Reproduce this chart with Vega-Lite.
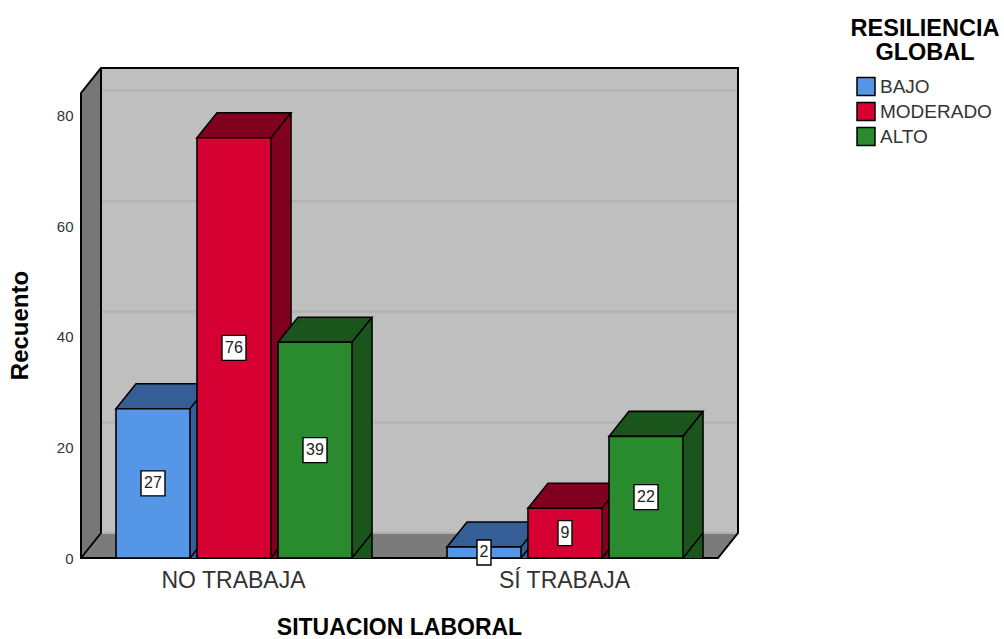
{
"$schema":"https://vega.github.io/schema/vega-lite/v6.json",
"width":657,"height":490,"autosize":"none",
"padding":{"left":81,"top":68,"right":266,"bottom":81},
"background":"white",
"view":{"stroke":null},
"datasets":{
"barras":[
{"situacion":"NO TRABAJA","nivel":"BAJO","recuento":27},
{"situacion":"NO TRABAJA","nivel":"MODERADO","recuento":76},
{"situacion":"NO TRABAJA","nivel":"ALTO","recuento":39},
{"situacion":"SÍ TRABAJA","nivel":"BAJO","recuento":2},
{"situacion":"SÍ TRABAJA","nivel":"MODERADO","recuento":9},
{"situacion":"SÍ TRABAJA","nivel":"ALTO","recuento":22}],
"marcas":[{"recuento":0},{"recuento":20},{"recuento":40},{"recuento":60},{"recuento":80}],
"pared":[{"pared":"marco"}]
},
"resolve":{"scale":{"fill":"independent"}},
"layer":[
{"data":{"name":"pared"},
 "mark":{"type":"point","shape":"M-132.5,-490L504.5,-490L504.5,-25L-132.5,-25Z","size":4,"filled":true,"fill":"#bfbfbf","strokeWidth":0,"opacity":1},
 "encoding":{"x":{"datum":"NO TRABAJA","type":"nominal","title":"SITUACION LABORAL","scale":{"domain":["NO TRABAJA","SÍ TRABAJA"],"range":[-13,649],"paddingInner":0,"paddingOuter":0},
   "axis":{"title":"SITUACION LABORAL","domain":false,"ticks":false,"labelAngle":0,"labelFont":"Liberation Sans","labelFontSize":23,"labelColor":"#333333","labelPadding":11,"titleFont":"Liberation Sans","titleFontSize":23,"titleFontWeight":"bold","titleColor":"#000000","titlePadding":24}},
  "y":{"datum":0,"type":"quantitative","title":"Recuento","scale":{"domain":[0,88.6],"nice":false,"range":[490,0]},
   "axis":{"title":"Recuento","titleY":257,"domain":false,"ticks":false,"grid":false,"values":[0,20,40,60,80],"labelFont":"Liberation Sans","labelFontSize":15,"labelColor":"#333333","labelPadding":8,"titleFont":"Liberation Sans","titleFontSize":24,"titleFontWeight":"bold","titleColor":"#000000","titlePadding":24}}}},
{"data":{"name":"pared"},
 "mark":{"type":"point","shape":"M-152.5,0L-132.5,-25L-132.5,-490L-152.5,-465Z","size":4,"filled":true,"fill":"#767676","strokeWidth":0,"opacity":1},
 "encoding":{"x":{"datum":"NO TRABAJA","type":"nominal"},"y":{"datum":0,"type":"quantitative"}}},
{"data":{"name":"pared"},
 "mark":{"type":"point","shape":"M-152.5,0L-132.5,-25L504.5,-25L484.5,0Z","size":4,"filled":true,"fill":"#7b7b7b","strokeWidth":0,"opacity":1},
 "encoding":{"x":{"datum":"NO TRABAJA","type":"nominal"},"y":{"datum":0,"type":"quantitative"}}},
{"data":{"name":"marcas"},
 "mark":{"type":"point","shape":"M-132.5,-25L504.5,-25","size":4,"filled":false,"stroke":"#b0b0b0","strokeWidth":2,"opacity":1},
 "encoding":{"x":{"datum":"NO TRABAJA","type":"nominal"},"y":{"field":"recuento","type":"quantitative","title":"Recuento"}}},
{"data":{"name":"pared"},
 "mark":{"type":"point","shape":"M-152.5,0L-152.5,-465L-132.5,-490L504.5,-490L504.5,-25L484.5,0ZM-152.5,0L-132.5,-25L-132.5,-490","size":4,"filled":false,"stroke":"#000000","strokeWidth":2,"opacity":1},
 "encoding":{"x":{"datum":"NO TRABAJA","type":"nominal"},"y":{"datum":0,"type":"quantitative"}}},
{"data":{"name":"barras"},
 "transform":[{"calculate":"datum.recuento / 2","as":"mitad"}],
 "encoding":{
  "x":{"field":"situacion","type":"nominal","title":"SITUACION LABORAL"},
  "y":{"field":"recuento","type":"quantitative","stack":null,"title":"Recuento"}
 },
 "resolve":{"scale":{"fill":"independent","xOffset":"independent"}},
 "layer":[
  {"mark":{"type":"bar","yOffset":-25,"strokeWidth":0},
   "encoding":{"xOffset":{"field":"nivel","type":"nominal","scale":{"type":"band","domain":["BAJO","MODERADO","ALTO"],"range":[68,304],"paddingInner":0.0864,"paddingOuter":0}},
    "fill":{"field":"nivel","type":"nominal","legend":null,"scale":{"domain":["BAJO","MODERADO","ALTO"],"range":["#365e96","#82001f","#1a561c"]}}}},
  {"mark":{"type":"point","shape":"M37,0L57,-25L37,-25Z","size":4,"filled":true,"strokeWidth":0,"opacity":1},
   "encoding":{"xOffset":{"field":"nivel","type":"nominal","scale":{"type":"band","domain":["BAJO","MODERADO","ALTO"],"range":[48,284],"paddingInner":0.0864,"paddingOuter":0}},"y":{"datum":0,"type":"quantitative","title":"Recuento"},"fill":{"field":"nivel","type":"nominal","legend":null,"scale":{"domain":["BAJO","MODERADO","ALTO"],"range":["#365e96","#82001f","#1a561c"]}}}},
  {"mark":{"type":"point","shape":"M37,0L57,-25","size":4,"filled":false,"stroke":"#000000","strokeWidth":1.6,"opacity":1},
   "encoding":{"xOffset":{"field":"nivel","type":"nominal","scale":{"type":"band","domain":["BAJO","MODERADO","ALTO"],"range":[48,284],"paddingInner":0.0864,"paddingOuter":0}},"y":{"datum":0,"type":"quantitative","title":"Recuento"}}},
  {"mark":{"type":"rule","yOffset":-25,"stroke":"#000000","strokeWidth":1.6},
   "encoding":{"xOffset":{"field":"nivel","type":"nominal","scale":{"type":"band","domain":["BAJO","MODERADO","ALTO"],"range":[105,341],"paddingInner":0.0864,"paddingOuter":0}},"y2":{"datum":0}}},
  {"mark":{"type":"point","shape":"M-37,0L37,0L57,-25L-17,-25Z","size":4,"filled":true,"stroke":"#000000","strokeWidth":1.6,"opacity":1},
   "encoding":{"xOffset":{"field":"nivel","type":"nominal","scale":{"type":"band","domain":["BAJO","MODERADO","ALTO"],"range":[48,284],"paddingInner":0.0864,"paddingOuter":0}},"fill":{"field":"nivel","type":"nominal","legend":null,"scale":{"domain":["BAJO","MODERADO","ALTO"],"range":["#365e96","#82001f","#1a561c"]}}}},
  {"mark":{"type":"bar","stroke":"#000000","strokeWidth":1.6},
   "encoding":{"xOffset":{"field":"nivel","type":"nominal","scale":{"type":"band","domain":["BAJO","MODERADO","ALTO"],"range":[48,284],"paddingInner":0.0864,"paddingOuter":0}},"fill":{"field":"nivel","type":"nominal","scale":{"domain":["BAJO","MODERADO","ALTO"],"range":["#5596e6","#d60032","#298a2e"]},
    "legend":{"title":["RESILIENCIA","GLOBAL"],"orient":"none","legendX":770,"legendY":-51,"symbolType":"square","symbolSize":324,"symbolOffset":-3,"symbolStrokeColor":"#000000","symbolStrokeWidth":1.5,"titleFont":"Liberation Sans","titleFontSize":23.5,"titleFontWeight":"bold","titleColor":"#000000","titleAlign":"center","titleAnchor":"middle","titleLineHeight":24,"titlePadding":12,"labelFont":"Liberation Sans","labelFontSize":19,"labelColor":"#333333","labelOffset":4,"rowPadding":1}}}},
  {"transform":[{"filter":"datum.recuento >= 10"}],
   "mark":{"type":"point","shape":"M-12,-12.5L12,-12.5L12,12.5L-12,12.5Z","size":4,"filled":true,"fill":"#ffffff","stroke":"#000000","strokeWidth":1.4,"opacity":1},
   "encoding":{"xOffset":{"field":"nivel","type":"nominal","scale":{"type":"band","domain":["BAJO","MODERADO","ALTO"],"range":[48,284],"paddingInner":0.0864,"paddingOuter":0}},"y":{"field":"mitad","type":"quantitative","title":"Recuento"}}},
  {"transform":[{"filter":"datum.recuento < 10"}],
   "mark":{"type":"point","shape":"M-7,-12.5L7,-12.5L7,12.5L-7,12.5Z","size":4,"filled":true,"fill":"#ffffff","stroke":"#000000","strokeWidth":1.4,"opacity":1},
   "encoding":{"xOffset":{"field":"nivel","type":"nominal","scale":{"type":"band","domain":["BAJO","MODERADO","ALTO"],"range":[48,284],"paddingInner":0.0864,"paddingOuter":0}},"y":{"field":"mitad","type":"quantitative","title":"Recuento"}}},
  {"mark":{"type":"text","font":"Liberation Sans","fontSize":16,"color":"#222222","baseline":"middle","align":"center"},
   "encoding":{"xOffset":{"field":"nivel","type":"nominal","scale":{"type":"band","domain":["BAJO","MODERADO","ALTO"],"range":[48,284],"paddingInner":0.0864,"paddingOuter":0}},"y":{"field":"mitad","type":"quantitative","title":"Recuento"},"text":{"field":"recuento","type":"quantitative"}}}
 ]}
]
}
